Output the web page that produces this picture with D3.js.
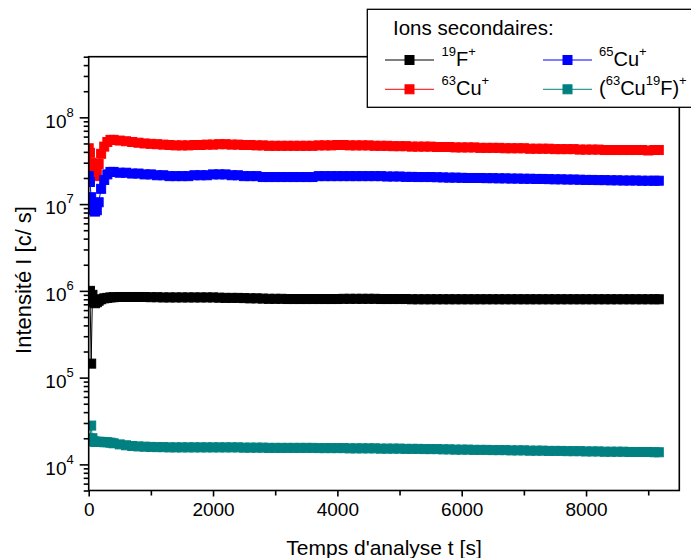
<!DOCTYPE html>
<html><head><meta charset="utf-8">
<script src="https://cdn.jsdelivr.net/npm/d3@7"></script>
<style>
html,body{margin:0;padding:0;background:#fff;}
svg{display:block;font-family:"Liberation Sans",Arial,sans-serif;}
</style></head>
<body><svg id="c" width="691" height="558"></svg>
<script>
// time (s)
const timeS = [0,20,40,60,80,100,130,160,200,250,300,350,400,
 500,600,700,800,900,1000,1100,1200,1300,1400,
 1500,1600,1700,1800,1900,2000,2100,2200,2300,2400,
 2500,2600,2700,2800,2900,3000,3100,3200,3300,3400,
 3500,3600,3700,3800,3900,4000,4100,4200,4300,4400,
 4500,4600,4700,4800,4900,5000,5100,5200,5300,5400,
 5500,5600,5700,5800,5900,6000,6100,6200,6300,6400,
 6500,6600,6700,6800,6900,7000,7100,7200,7300,7400,
 7500,7600,7700,7800,7900,8000,8100,8200,8300,8400,
 8500,8600,8700,8800,8900,9000,9100,9170];

// 19F+  (c/s)
const f19 = [7.5e5,1.0e6,1.45e5,9.0e5,7.4e5,7.2e5,7.4e5,7.7e5,8.0e5,8.2e5,8.3e5,8.4e5,8.45e5,
 8.5e5,8.5e5,8.5e5,8.5e5,8.5e5,8.45e5,8.45e5,8.4e5,8.4e5,8.4e5,
 8.4e5,8.4e5,8.4e5,8.4e5,8.4e5,8.4e5,8.35e5,8.3e5,8.3e5,8.3e5,
 8.25e5,8.2e5,8.2e5,8.15e5,8.1e5,8.1e5,8.1e5,8.05e5,8.05e5,8.05e5,
 8.05e5,8.05e5,8.05e5,8.05e5,8.05e5,8.05e5,8.1e5,8.1e5,8.1e5,8.1e5,
 8.1e5,8.1e5,8.05e5,8.05e5,8.05e5,8.05e5,8.05e5,8.0e5,8.0e5,8.0e5,
 8.0e5,8.0e5,8.0e5,8.0e5,8.0e5,8.0e5,8.0e5,8.0e5,8.0e5,8.0e5,
 8.0e5,8.0e5,8.0e5,8.0e5,8.0e5,8.0e5,8.0e5,8.0e5,8.0e5,8.0e5,
 8.0e5,8.0e5,8.0e5,8.0e5,8.0e5,8.0e5,8.0e5,8.0e5,8.0e5,8.0e5,
 8.0e5,8.0e5,8.0e5,8.0e5,8.0e5,8.0e5,8.0e5,8.0e5];

// 63Cu+
const cu63 = [4.4e7,3.9e7,3.0e7,2.4e7,2.2e7,2.1e7,2.3e7,2.9e7,3.8e7,4.6e7,5.2e7,5.5e7,5.5e7,
 5.4e7,5.3e7,5.2e7,5.1e7,5.0e7,4.95e7,4.9e7,4.85e7,4.8e7,4.75e7,
 4.75e7,4.75e7,4.8e7,4.8e7,4.85e7,4.85e7,4.9e7,4.9e7,4.85e7,4.85e7,
 4.8e7,4.8e7,4.75e7,4.75e7,4.7e7,4.7e7,4.7e7,4.7e7,4.7e7,4.7e7,
 4.7e7,4.7e7,4.75e7,4.75e7,4.75e7,4.8e7,4.8e7,4.75e7,4.75e7,4.75e7,
 4.75e7,4.7e7,4.7e7,4.7e7,4.65e7,4.65e7,4.65e7,4.6e7,4.6e7,4.6e7,
 4.6e7,4.55e7,4.55e7,4.55e7,4.5e7,4.5e7,4.5e7,4.5e7,4.45e7,4.45e7,
 4.45e7,4.45e7,4.4e7,4.4e7,4.4e7,4.4e7,4.35e7,4.35e7,4.35e7,4.35e7,
 4.3e7,4.3e7,4.3e7,4.3e7,4.25e7,4.25e7,4.25e7,4.25e7,4.2e7,4.2e7,
 4.2e7,4.2e7,4.2e7,4.2e7,4.2e7,4.15e7,4.2e7,4.2e7];

// 65Cu+
const cu65 = [2.1e7,1.8e7,1.2e7,9.5e6,8.5e6,8.2e6,8.5e6,1.05e7,1.5e7,1.9e7,2.2e7,2.35e7,2.35e7,
 2.3e7,2.3e7,2.25e7,2.25e7,2.2e7,2.2e7,2.15e7,2.15e7,2.1e7,2.1e7,
 2.1e7,2.1e7,2.15e7,2.15e7,2.15e7,2.2e7,2.2e7,2.2e7,2.15e7,2.15e7,
 2.1e7,2.1e7,2.1e7,2.05e7,2.05e7,2.05e7,2.05e7,2.05e7,2.05e7,2.05e7,
 2.05e7,2.05e7,2.1e7,2.1e7,2.1e7,2.1e7,2.1e7,2.1e7,2.1e7,2.1e7,
 2.1e7,2.1e7,2.1e7,2.08e7,2.08e7,2.08e7,2.06e7,2.06e7,2.05e7,2.05e7,
 2.05e7,2.04e7,2.03e7,2.02e7,2.02e7,2.01e7,2.0e7,2.0e7,2.0e7,1.99e7,
 1.99e7,1.98e7,1.98e7,1.97e7,1.97e7,1.96e7,1.96e7,1.95e7,1.95e7,1.94e7,
 1.93e7,1.93e7,1.92e7,1.92e7,1.91e7,1.9e7,1.9e7,1.89e7,1.89e7,1.88e7,
 1.88e7,1.87e7,1.87e7,1.87e7,1.86e7,1.86e7,1.86e7,1.86e7];

// (63Cu19F)+
const cuf = [2.0e4,1.9e4,2.8e4,2.0e4,1.85e4,1.82e4,1.82e4,1.82e4,1.82e4,1.8e4,1.8e4,1.78e4,1.75e4,
 1.7e4,1.66e4,1.63e4,1.61e4,1.6e4,1.59e4,1.58e4,1.58e4,1.57e4,1.57e4,
 1.57e4,1.57e4,1.57e4,1.57e4,1.57e4,1.57e4,1.57e4,1.57e4,1.57e4,1.57e4,
 1.56e4,1.56e4,1.56e4,1.56e4,1.55e4,1.55e4,1.55e4,1.55e4,1.55e4,1.55e4,
 1.55e4,1.55e4,1.54e4,1.54e4,1.54e4,1.54e4,1.54e4,1.53e4,1.53e4,1.53e4,
 1.53e4,1.53e4,1.52e4,1.52e4,1.52e4,1.52e4,1.51e4,1.51e4,1.51e4,1.5e4,
 1.5e4,1.5e4,1.49e4,1.49e4,1.48e4,1.48e4,1.48e4,1.47e4,1.47e4,1.47e4,
 1.46e4,1.46e4,1.46e4,1.45e4,1.45e4,1.45e4,1.44e4,1.44e4,1.44e4,1.43e4,
 1.43e4,1.43e4,1.42e4,1.42e4,1.42e4,1.41e4,1.41e4,1.41e4,1.4e4,1.4e4,
 1.4e4,1.4e4,1.39e4,1.39e4,1.39e4,1.39e4,1.38e4,1.38e4];

const seriesNames = ["19F+","63Cu+","65Cu+","(63Cu19F)+"];
const seriesColors = ["#000000","#ff0000","#0000ff","#008080"];
const xTickLabels = [0,2000,4000,6000,8000];
const xMinorTicks = [1000,3000,5000,7000,9000];
const yDecades = [1e4,1e5,1e6,1e7,1e8];

const svg = d3.select("#c");
const X0=88.7, X1=679.3, Y0=490.5, Y1=56.7;
const x = d3.scaleLinear().domain([0,9500]).range([X0,X1]);
const y = d3.scaleLog().domain([5e3,5e8]).range([Y0,Y1]);

svg.append("defs").append("clipPath").attr("id","pc")
  .append("rect").attr("x",X0).attr("y",Y1).attr("width",X1-X0).attr("height",Y0-Y1);

const series = [f19,cu63,cu65,cuf].map((v,i)=>({name:seriesNames[i],color:seriesColors[i],
  pts:v.map((d,j)=>({t:timeS[j],v:d}))}));

const gData = svg.append("g").attr("clip-path","url(#pc)");
const line = d3.line().x(d=>x(d.t)).y(d=>y(d.v));
const MS = 9;
series.forEach(s=>{
  gData.append("path").attr("d",line(s.pts)).attr("fill","none").attr("stroke",s.color).attr("stroke-width",1);
  gData.append("g").selectAll("rect").data(s.pts).join("rect")
    .attr("x",d=>x(d.t)-MS/2).attr("y",d=>y(d.v)-MS/2)
    .attr("width",MS).attr("height",MS).attr("fill",s.color).attr("stroke",s.color).attr("stroke-width",1);
});

// frame
svg.append("rect").attr("x",X0).attr("y",Y1).attr("width",X1-X0).attr("height",Y0-Y1)
  .attr("fill","none").attr("stroke","#000").attr("stroke-width",1.6);

// x axis
const gx = svg.append("g").attr("transform",`translate(0,${Y0})`)
  .call(d3.axisBottom(x).tickValues(xTickLabels).tickSize(6).tickPadding(6).tickFormat(d3.format("d")));
gx.select(".domain").remove();
gx.selectAll("line").attr("stroke-width",1.6);
gx.selectAll("text").attr("font-size",19).attr("font-family","Liberation Sans, Arial, sans-serif").attr("fill","#000");
const gx2 = svg.append("g").attr("transform",`translate(0,${Y0})`)
  .call(d3.axisBottom(x).tickValues(xMinorTicks).tickSize(5).tickFormat(""));
gx2.select(".domain").remove();
gx2.selectAll("line").attr("stroke-width",1.6);

// y axis
const yMinor = [];
[1e3,1e4,1e5,1e6,1e7,1e8].forEach(dec=>{[2,3,4,5,6,7,8,9].forEach(m=>{const v=m*dec; if(v>=5e3&&v<=5e8) yMinor.push(v);});});
const gy = svg.append("g").attr("transform",`translate(${X0},0)`)
  .call(d3.axisLeft(y).tickValues(yDecades).tickSize(9).tickPadding(6).tickFormat(""));
gy.select(".domain").remove();
gy.selectAll("line").attr("stroke-width",1.6);
gy.selectAll(".tick text").attr("font-size",19).attr("fill","#000").attr("dy","0.52em")
  .each(function(d){
    const t=d3.select(this);
    t.append("tspan").text("10");
    t.append("tspan").attr("font-size",13).attr("dy",-11).text(Math.round(Math.log10(d)));
  });
const gy2 = svg.append("g").attr("transform",`translate(${X0},0)`)
  .call(d3.axisLeft(y).tickValues(yMinor).tickSize(5).tickFormat(""));
gy2.select(".domain").remove();
gy2.selectAll("line").attr("stroke-width",1.6);

// axis titles
svg.append("text").attr("x",(X0+X1)/2).attr("y",555).attr("text-anchor","middle")
  .attr("font-size",21).text("Temps d'analyse t [s]");
svg.append("text").attr("transform",`translate(31,280) rotate(-90)`).attr("text-anchor","middle")
  .attr("font-size",22).text("Intensité I [c/ s]");

// legend
const lg = svg.append("g");
lg.append("rect").attr("x",367.3).attr("y",9.3).attr("width",340).attr("height",98)
  .attr("fill","#fff").attr("stroke","#000").attr("stroke-width",1.3);
lg.append("text").attr("x",393).attr("y",35).attr("font-size",20.5).text("Ions secondaires:");
const legendPos = [{lx:385,rx:434,ty:441.5,y:60},{lx:385,rx:434,ty:441.5,y:89.3},{lx:543,rx:592,ty:599,y:60},{lx:543,rx:592,ty:599,y:89.3}];
const legendParts = [
  [["19",1],["F",0],["+",1]],
  [["63",1],["Cu",0],["+",1]],
  [["65",1],["Cu",0],["+",1]],
  [["(",0],["63",1],["Cu",0],["19",1],["F)",0],["+",1]]
];
series.forEach((s,i)=>{
  const p=legendPos[i];
  lg.append("line").attr("x1",p.lx).attr("x2",p.rx).attr("y1",p.y).attr("y2",p.y).attr("stroke",s.color).attr("stroke-width",1);
  lg.append("rect").attr("x",(p.lx+p.rx)/2-MS/2).attr("y",p.y-MS/2).attr("width",MS).attr("height",MS)
    .attr("fill",s.color).attr("stroke",s.color);
  const t = lg.append("text").attr("x",p.ty).attr("y",p.y+6).attr("font-size",20);
  let cur=0;
  legendParts[i].forEach(([str,sup])=>{
    const target = sup? -10.5 : 0;
    t.append("tspan").attr("font-size",sup?13:20).attr("dy",target-cur).text(str);
    cur=target;
  });
});
</script></body></html>
